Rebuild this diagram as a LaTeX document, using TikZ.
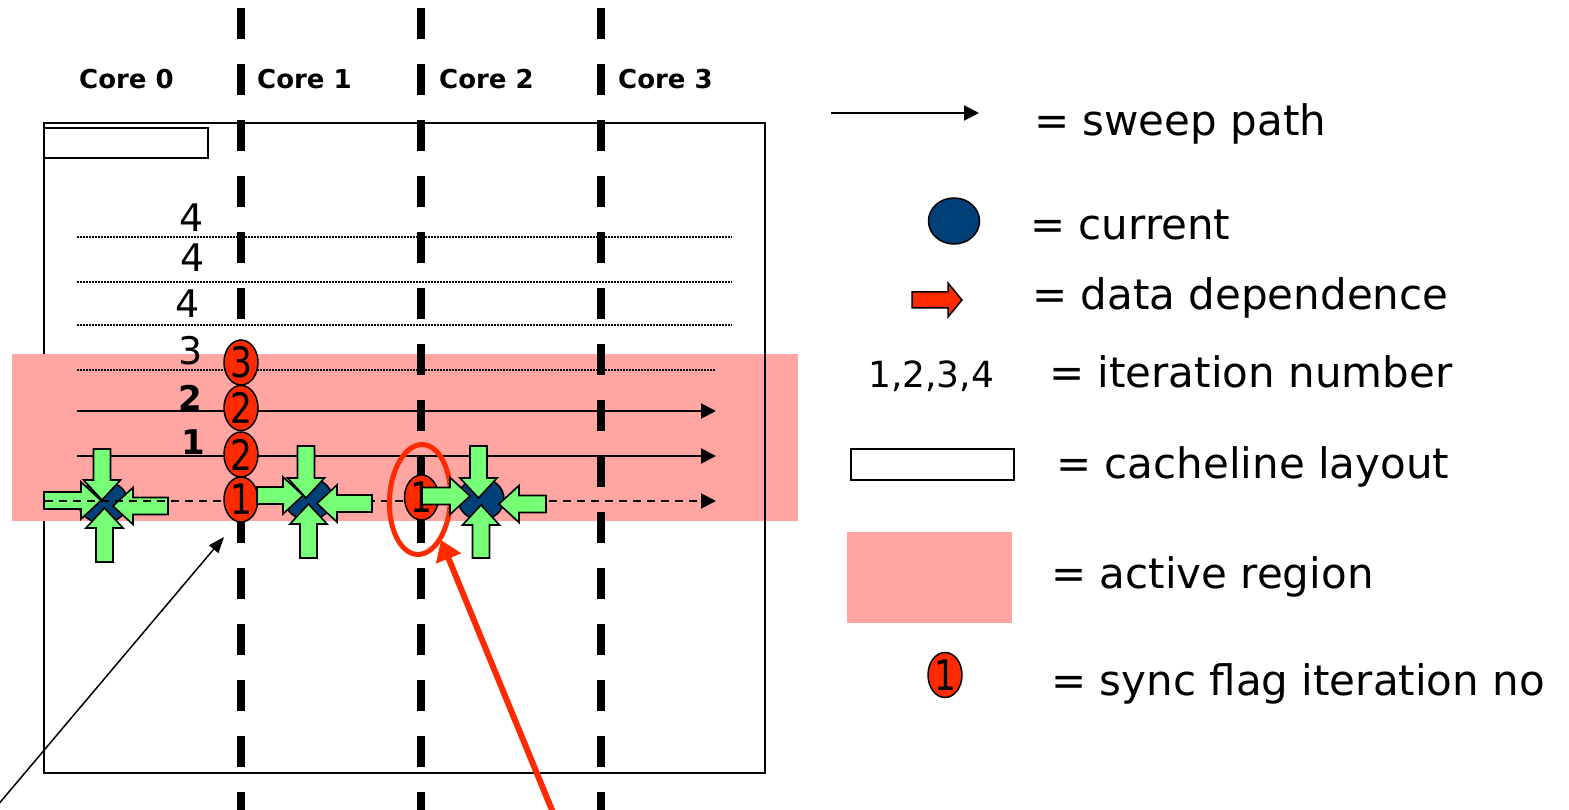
\documentclass[tikz,border=0pt]{standalone}
\usepackage{fontspec}
\usepackage{graphicx}
\setmainfont{DejaVu Sans}
\usetikzlibrary{arrows.meta,shapes.geometric}
\definecolor{pinkreg}{RGB}{255,166,163}
\definecolor{curblue}{RGB}{0,64,120}
\definecolor{flagred}{RGB}{255,42,0}
\definecolor{grn}{RGB}{120,255,120}
\newcommand\greenarr[4]{%
  \begin{scope}[shift={(#1,#2)},rotate=#3]
    \draw[garrowstyle] (0,0) -- (-20,18.5) -- (-20,8.5) -- (-#4,8.5) -- (-#4,-8.5) -- (-20,-8.5) -- (-20,-18.5) -- cycle;
  \end{scope}}
\begin{document}
\begin{tikzpicture}[x=1pt,y=-1pt,
  garrowstyle/.style={fill=grn,draw=black,line width=1.6pt,line join=miter},
  dotline/.style={line width=1.5pt,dash pattern=on 1.5pt off 1.5pt},
  sweep/.style={line width=2pt,-{Triangle[length=15pt,width=15pt]}},
  dashsweep/.style={line width=2pt,dash pattern=on 8pt off 6pt,-{Triangle[length=15pt,width=15pt]}},
  coreline/.style={line width=7.5pt,dash pattern=on 31pt off 25pt},
  flag/.style={ellipse,draw=black,line width=1.5pt,fill=flagred,minimum width=34pt,minimum height=45pt,inner sep=0pt},
  flagtxt/.style={inner sep=0pt,font=\fontsize{42}{42}\selectfont},
  cur/.style={ellipse,draw=black,line width=1.5pt,fill=curblue,inner sep=0pt},
  legtxt/.style={anchor=base west,inner sep=0pt,font=\fontsize{42}{50}\selectfont},
  numtxt/.style={anchor=base west,inner sep=0pt,font=\fontsize{38}{40}\selectfont},
  boldnum/.style={anchor=base west,inner sep=0pt,font=\fontsize{34}{36}\selectfont\bfseries},
  corelbl/.style={anchor=base west,inner sep=0pt,font=\fontsize{26}{28}\selectfont\bfseries}]
\useasboundingbox (0,0) rectangle (1569,810);

% frame and active region
\draw[line width=2pt] (44,123) rectangle (765,773);
\fill[pinkreg] (12,354) rectangle (798,521);
\draw[line width=2pt] (765,123) -- (765,773);
\draw[line width=2pt] (44,128) rectangle (208,158);

% core labels
\node[corelbl] (k0) at (79,89) {Core 0};
\node[corelbl] (k1) at (257,89) {Core 1};
\node[corelbl] (k2) at (439,89) {Core 2};
\node[corelbl] (k3) at (618,89) {Core 3};

% iteration lines
\draw[dotline] (77,237) -- (732,237);
\draw[dotline] (77,282) -- (732,282);
\draw[dotline] (77,325) -- (732,325);
\draw[dotline] (77,370) -- (716,370);
\draw[sweep] (77,411) -- (716,411);
\draw[sweep] (77,456) -- (716,456);

\node[numtxt] (n4a) at (179,232) {4};
\node[numtxt] (n4b) at (180,272) {4};
\node[numtxt] (n4c) at (175,318) {4};
\node[numtxt] (n3) at (178,364) {3};
\node[boldnum] (n2) at (178,410) {2};
\node[boldnum] (n1) at (181,454) {1};

% core 0 arrows (below the dashed line)
\node[cur,minimum width=50pt,minimum height=42pt] (c0) at (103,502) {};
\greenarr{102}{500}{-90}{51}
\greenarr{104.5}{508}{90}{54}
\greenarr{101}{500.5}{0}{57}
\greenarr{113}{506}{180}{55}

\draw[dashsweep] (45,501) -- (716,501);

% core boundaries
\draw[coreline] (241,8) -- (241,812);
\draw[coreline] (421,8) -- (421,812);
\draw[coreline] (601,8) -- (601,812);

% sync flags
\node[flag] (f3) at (241,362.5) {};
\node[flagtxt] at (f3) {\scalebox{0.82}[1]{3}};
\node[flag] (f2b) at (241,408) {};
\node[flagtxt] at (f2b) {\scalebox{0.82}[1]{2}};
\node[flag] (f2a) at (241,454.5) {};
\node[flagtxt] at (f2a) {\scalebox{0.82}[1]{2}};
\node[flag] (f1a) at (241,499.5) {};
\node[flagtxt] at (f1a) {\scalebox{0.82}[1]{1}};
\node[flag] (f1b) at (421.5,497.5) {};
\node[flagtxt] at (f1b) {\scalebox{0.82}[1]{1}};

% highlight ellipse
\node[ellipse,draw=flagred,line width=5pt,minimum width=61pt,minimum height=110pt,inner sep=0pt,rotate=-3] (hl) at (420,499.5) {};

% core 1
\node[cur,minimum width=48pt,minimum height=42pt] (c1) at (308.5,499) {};
\greenarr{306}{498}{-90}{52}
\greenarr{308.5}{504}{90}{54}
\greenarr{303}{495.5}{0}{46}
\greenarr{317}{503.5}{180}{55}

% core 2
\node[cur,minimum width=46pt,minimum height=42pt] (c2) at (481,499) {};
\greenarr{478.5}{498}{-90}{52}
\greenarr{481}{505}{90}{53}
\greenarr{470}{496}{0}{48}
\greenarr{499}{504}{180}{47}

% annotation arrows
\coordinate (blkS) at (-3,806);
\coordinate (blkT) at (224,537);
\draw[line width=1.5pt,-{Triangle[length=16pt,width=12pt]}] (blkS) -- (blkT);
\coordinate (redS) at (554,815);
\coordinate (redT) at (441,540);
\draw[draw=flagred,line width=6pt,-{Triangle[length=20pt,width=26pt]}] (redS) -- (redT);

% legend
\coordinate (lsA) at (831,113);
\coordinate (lsB) at (979,113);
\draw[sweep] (lsA) -- (lsB);
\node[legtxt] (t1) at (1034,136) {= sweep path};
\node[cur,minimum width=51pt,minimum height=46pt] (lcur) at (954,221) {};
\node[legtxt] (t2) at (1030,240) {= current};
\draw[fill=flagred,draw=black,line width=1.5pt] (912,292) -- (948,292) -- (948,283) -- (962,300) -- (948,317) -- (948,308) -- (912,308) -- cycle;
\node[legtxt] (t3) at (1032,310) {= data dependence};
\node[anchor=base west,inner sep=0pt,font=\fontsize{36}{40}\selectfont] (t4a) at (868,387) {1,2,3,4};
\node[legtxt] (t4) at (1049,387) {= iteration number};
\draw[line width=2pt] (851,449) rectangle (1014,480);
\node[legtxt] (t5) at (1056,478) {= cacheline layout};
\fill[pinkreg] (847,532) rectangle (1012,623);
\node[legtxt] (t6) at (1051,588) {= active region};
\node[flag] (lflag) at (945,675) {};
\node[flagtxt] at (lflag) {\scalebox{0.82}[1]{1}};
\node[legtxt] (t7) at (1051,695) {= sync flag iteration no};
\end{tikzpicture}
\end{document}
